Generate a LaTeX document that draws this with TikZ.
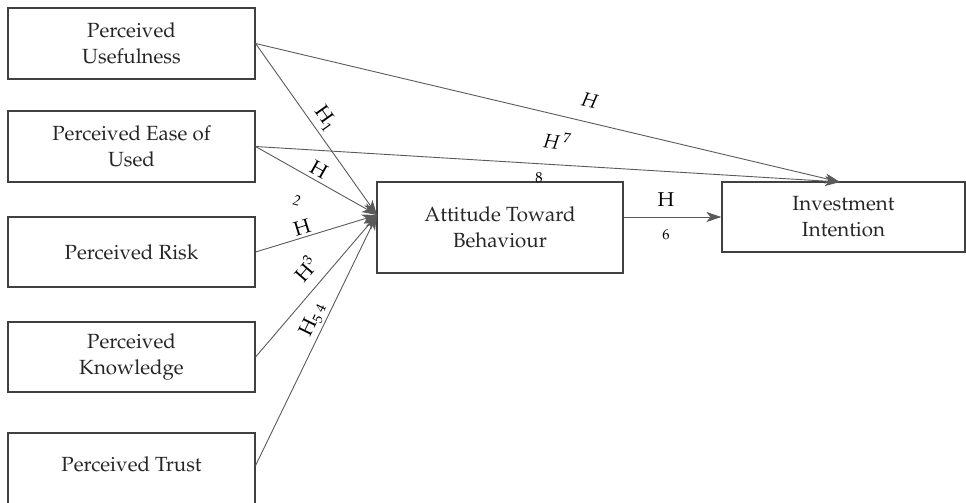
\documentclass[tikz,border=0pt]{standalone}
\usepackage[T1]{fontenc}
\usepackage{mathpazo}
\usetikzlibrary{arrows.meta}
\definecolor{edgegray}{HTML}{404040}
\definecolor{linkgray}{HTML}{5A5A5A}
% index digits set below or above an H
\newcommand{\lowidx}[1]{\raisebox{-4pt}{\fontsize{14}{14}\selectfont #1}}
\newcommand{\highidx}[1]{\raisebox{8pt}{\fontsize{14}{14}\selectfont #1}}
\begin{document}
\begin{tikzpicture}[x=1pt,y=-1pt,
  construct/.style={draw=edgegray,line width=1.1pt,rectangle,align=center,
    inner sep=0pt,font=\fontsize{20.5}{26}\selectfont,text=black!85},
  link/.style={draw=linkgray,line width=0.9pt,
    -{Stealth[length=15pt,width=10pt,inset=4pt]},color=linkgray},
  hyp/.style={font=\fontsize{20}{22}\selectfont,text=black,inner sep=0pt},
  hypsmall/.style={font=\fontsize{14.5}{16}\selectfont,text=black,inner sep=0pt}]
\useasboundingbox (0,0) rectangle (966,503);

% predictor constructs
\node[construct,minimum width=247pt,minimum height=71pt] (pu) at (131.5,43.5) {Perceived\\Usefulness};
\node[construct,minimum width=247pt,minimum height=71pt] (peou) at (131.5,146.5) {Perceived Ease of\\Used};
\node[construct,minimum width=247pt,minimum height=70pt] (pr) at (131.5,252) {Perceived Risk};
\node[construct,minimum width=247pt,minimum height=70pt] (pk) at (131.5,357) {Perceived\\Knowledge};
\node[construct,minimum width=247pt,minimum height=71pt] (pt) at (131.5,468.5) {\raisebox{8pt}{Perceived Trust}};

% mediator and outcome
\node[construct,minimum width=246pt,minimum height=91pt] (atb) at (500,227.5) {Attitude Toward\\Behaviour};
\node[construct,minimum width=243pt,minimum height=70pt] (ii) at (843.5,217) {Investment\\Intention};

\coordinate (atbin) at (377,215);
\coordinate (iitop) at (840,182);

% paths into attitude
\draw[link] (pu.east) -- (atbin);
\draw[link] (peou.east) -- (atbin);
\draw[link] (pr.east) -- (atbin);
\draw[link] (pk.east) -- (atbin);
\draw[link] ([yshift=3pt]pt.east) -- (atbin);

% direct paths into intention
\draw[link] (pu.east) -- (iitop);
\draw[link] (peou.east) -- (iitop);
\draw[link] (atb.east |- ii.west) -- (ii.west);

% hypothesis labels
\node[hyp,rotate=-54.6] (h1) at (325,118) {H\lowidx{1}};
\node[hyp,rotate=-29.5] (h2) at (319,170) {H};
\node[hypsmall,rotate=-15] (h2n) at (297,201) {\textit{2}};
\node[hyp,rotate=17] (h3) at (302,227) {H};
\node[hyp,rotate=49] (h4) at (305,269) {H\highidx{3}};
\node[hyp,rotate=64] (h5) at (313,320) {H\lowidx{5}\,\lowidx{\raisebox{2pt}{4}}};
\node[hyp,rotate=-13] (h7) at (590,101) {\textit{H}};
\node[hyp,rotate=-8] (h8) at (557,141) {\textit{H}\,\highidx{7}};
\node[hypsmall] (h8n) at (539,178) {8};
\node[hyp] (h6) at (666,200) {H};
\node[hypsmall] (h6n) at (666,235) {6};
\end{tikzpicture}
\end{document}
